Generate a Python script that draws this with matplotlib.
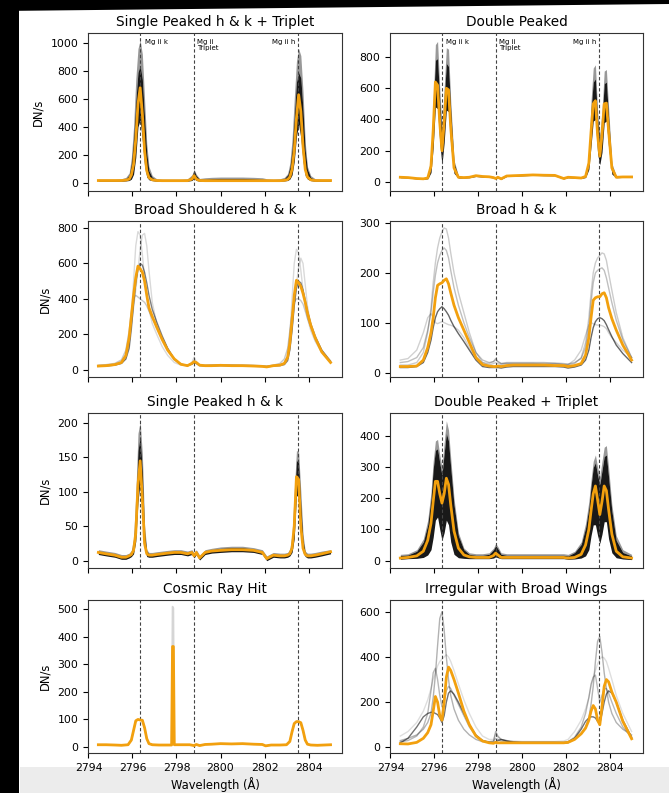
import matplotlib
matplotlib.use("Agg")
import matplotlib.pyplot as plt
from matplotlib.patches import Rectangle, Polygon

# ---------------- data ----------------
LINE_K = 2796.35
LINE_TRIPLET = 2798.8
LINE_H = 2803.53

WL = [2794.45, 2794.8, 2795.2, 2795.5, 2795.7, 2795.85, 2795.95, 2796.05, 2796.15, 2796.25,
      2796.35, 2796.45, 2796.55, 2796.65, 2796.75, 2796.9, 2797.1, 2797.35, 2797.6, 2797.9,
      2798.2, 2798.5, 2798.7, 2798.8, 2798.9, 2799.05, 2799.3, 2799.6, 2800.0, 2800.5,
      2801.0, 2801.5, 2801.9, 2802.1, 2802.4, 2802.7, 2802.9, 2803.05, 2803.15, 2803.25,
      2803.35, 2803.45, 2803.55, 2803.65, 2803.75, 2803.85, 2803.95, 2804.1, 2804.3, 2804.6,
      2805.0]

# Panel 1: Single Peaked h & k + Triplet
P1_MEAN = [15, 15, 15, 15, 18, 25, 55, 130, 310, 560, 680, 490, 230, 85, 35, 20, 15, 14, 14, 14,
           14, 14, 25, 50, 25, 15, 14, 14, 14, 14, 14, 14, 14, 14, 14, 14, 16, 22, 40, 95,
           230, 460, 630, 510, 260, 95, 40, 20, 15, 15, 15]
P1_LO = [10, 10, 10, 10, 12, 15, 25, 60, 180, 400, 450, 300, 120, 40, 20, 14, 10, 10, 10, 10,
         10, 10, 15, 30, 15, 10, 10, 10, 10, 10, 10, 10, 10, 10, 10, 10, 12, 15, 25, 55,
         150, 330, 420, 320, 150, 50, 25, 14, 10, 10, 10]
P1_HI = [20, 20, 20, 22, 30, 55, 140, 320, 580, 790, 840, 740, 470, 210, 85, 38, 22, 20, 20, 20,
         20, 22, 45, 90, 50, 25, 25, 28, 30, 30, 30, 28, 25, 22, 20, 22, 30, 55, 110, 240,
         470, 720, 790, 750, 520, 230, 95, 38, 22, 20, 20]
P1_TOP = [25, 25, 25, 28, 38, 70, 180, 400, 740, 960, 1020, 920, 600, 280, 115, 50, 28, 25, 25, 25,
          25, 28, 55, 95, 60, 30, 35, 38, 40, 40, 40, 38, 35, 28, 25, 28, 38, 65, 140, 310,
          600, 870, 960, 910, 650, 290, 115, 50, 28, 25, 25]

# Panel 2: Double Peaked
P2_MEAN = [30, 28, 22, 20, 25, 100, 330, 640, 620, 380, 200, 380, 600, 590, 350, 90, 30, 28, 30, 40,
           35, 33, 28, 22, 30, 20, 38, 40, 42, 45, 43, 42, 22, 30, 28, 25, 35, 120, 320, 500,
           520, 300, 165, 300, 500, 505, 330, 90, 30, 32, 32]
P2_LO = [27, 25, 19, 17, 20, 60, 220, 480, 470, 250, 110, 250, 460, 450, 230, 55, 25, 25, 27, 35,
         31, 30, 25, 19, 27, 17, 35, 37, 39, 42, 40, 39, 19, 27, 25, 22, 28, 80, 230, 390,
         400, 180, 110, 190, 380, 390, 220, 50, 27, 29, 29]
P2_HI = [33, 31, 25, 22, 35, 150, 460, 780, 790, 520, 300, 520, 760, 740, 470, 125, 35, 31, 33, 45,
         38, 36, 31, 25, 33, 23, 40, 43, 45, 48, 46, 45, 25, 33, 31, 28, 42, 170, 460, 640,
         660, 400, 260, 400, 630, 640, 420, 105, 34, 35, 36]
P2_TOP = [35, 33, 28, 25, 40, 170, 520, 880, 900, 600, 350, 600, 860, 850, 520, 140, 40, 33, 35, 48,
          40, 38, 33, 28, 35, 25, 42, 45, 48, 50, 48, 47, 28, 35, 33, 30, 45, 180, 520, 730,
          750, 450, 300, 450, 710, 720, 480, 120, 38, 38, 40]

# Panel 3: Broad Shouldered h & k
P3_MEAN = [20, 22, 28, 40, 80, 180, 300, 420, 520, 585, 570, 550, 500, 420, 350, 300, 240, 170, 110, 60,
           30, 22, 35, 45, 40, 25, 22, 22, 24, 22, 22, 20, 18, 15, 22, 25, 35, 70, 150, 280,
           420, 505, 490, 470, 430, 380, 320, 250, 180, 100, 40]
P3_G1 = [20, 22, 26, 35, 60, 140, 300, 500, 700, 780, 760, 650, 520, 420, 340, 260, 200, 130, 80, 40,
         25, 22, 40, 70, 45, 25, 22, 25, 27, 25, 24, 23, 20, 18, 22, 25, 35, 80, 200, 400,
         600, 680, 660, 560, 450, 360, 290, 220, 160, 95, 40]
P3_G2 = [22, 25, 30, 45, 80, 150, 250, 350, 450, 560, 680, 760, 770, 700, 560, 380, 260, 170, 110, 55,
         30, 25, 35, 50, 40, 28, 25, 26, 28, 27, 26, 25, 22, 20, 24, 28, 35, 60, 120, 230,
         360, 480, 580, 630, 600, 480, 360, 250, 170, 100, 45]
P3_G3 = [25, 28, 35, 55, 110, 220, 330, 400, 420, 410, 400, 390, 380, 360, 330, 290, 240, 180, 120, 60,
         30, 25, 30, 40, 35, 25, 24, 25, 26, 25, 24, 22, 20, 19, 25, 35, 60, 120, 220, 320,
         380, 400, 400, 390, 370, 330, 290, 240, 180, 110, 50]
P3_G4 = [18, 20, 25, 35, 60, 120, 230, 370, 490, 570, 600, 590, 550, 490, 420, 340, 270, 190, 120, 60,
         30, 22, 30, 40, 35, 22, 20, 20, 22, 21, 20, 19, 17, 15, 20, 22, 28, 50, 110, 220,
         360, 460, 500, 490, 450, 390, 330, 260, 190, 110, 45]

# Panel 4: Broad h & k
P4_MEAN = [12, 12, 13, 25, 50, 80, 110, 150, 175, 178, 180, 185, 188, 178, 160, 135, 110, 85, 60, 30,
           16, 13, 12, 12, 13, 12, 14, 15, 15, 15, 15, 14, 14, 12, 14, 18, 35, 70, 110, 145,
           150, 152, 152, 158, 160, 150, 130, 108, 85, 55, 25]
P4_G1 = [15, 15, 20, 40, 80, 130, 180, 220, 250, 270, 282, 290, 288, 270, 240, 200, 160, 120, 80, 40,
         20, 15, 18, 20, 18, 16, 18, 18, 18, 18, 17, 17, 16, 15, 18, 30, 60, 110, 160, 200,
         220, 230, 235, 240, 238, 225, 200, 165, 120, 70, 30]
P4_G2 = [20, 22, 30, 50, 85, 120, 160, 195, 220, 235, 245, 250, 245, 230, 205, 170, 135, 100, 70, 40,
         25, 20, 22, 28, 22, 18, 20, 20, 20, 20, 20, 19, 18, 17, 20, 28, 50, 90, 140, 180,
         200, 205, 208, 210, 205, 190, 170, 140, 105, 65, 30]
P4_G3 = [10, 10, 12, 20, 40, 65, 90, 110, 122, 128, 132, 128, 122, 115, 105, 92, 78, 62, 45, 25,
         12, 10, 10, 10, 10, 9, 11, 12, 12, 12, 12, 12, 11, 9, 11, 15, 25, 45, 70, 90,
         102, 108, 110, 108, 104, 96, 86, 72, 55, 38, 20]
P4_G4 = [25, 28, 45, 80, 110, 118, 110, 100, 98, 100, 102, 100, 98, 96, 95, 92, 85, 70, 50, 30,
         20, 18, 22, 25, 22, 18, 18, 18, 18, 18, 18, 18, 16, 16, 25, 45, 75, 95, 100, 98,
         96, 95, 95, 94, 92, 88, 80, 70, 60, 45, 30]

# Panel 5: Single Peaked h & k
P5_MEAN = [12, 10, 8, 5, 5, 7, 9, 15, 40, 110, 145, 90, 25, 10, 8, 8, 9, 10, 11, 12,
           12, 10, 12, 7, 12, 4, 12, 14, 15, 16, 16, 15, 12, 3, 8, 7, 7, 8, 10, 18,
           50, 122, 118, 50, 18, 9, 7, 7, 8, 10, 13]
P5_LO = [9, 7, 5, 2, 2, 4, 6, 10, 28, 85, 115, 65, 16, 6, 5, 5, 6, 7, 8, 9,
         9, 7, 9, 4, 9, 1, 9, 11, 12, 13, 13, 12, 9, 0, 5, 4, 4, 5, 7, 12,
         32, 95, 92, 32, 12, 6, 4, 4, 5, 7, 10]
P5_HI = [14, 12, 10, 7, 7, 9, 13, 26, 75, 160, 180, 130, 42, 14, 10, 10, 11, 12, 13, 14,
         14, 12, 14, 9, 14, 6, 14, 16, 18, 19, 19, 17, 14, 5, 10, 9, 9, 11, 15, 30,
         82, 146, 142, 82, 30, 12, 9, 9, 10, 12, 15]
P5_TOP = [16, 14, 12, 9, 9, 11, 15, 32, 95, 185, 202, 155, 52, 16, 12, 12, 13, 14, 15, 16,
          16, 14, 16, 11, 16, 8, 16, 18, 20, 21, 21, 19, 16, 7, 12, 11, 11, 12, 17, 38,
          100, 160, 158, 100, 38, 14, 11, 11, 12, 14, 16]

# Panel 6: Double Peaked + Triplet
P6_MEAN = [8, 10, 15, 30, 65, 120, 190, 255, 255, 215, 185, 215, 265, 245, 180, 95, 40, 18, 12, 10,
           10, 10, 16, 24, 18, 10, 10, 10, 10, 10, 10, 10, 10, 8, 10, 20, 50, 100, 160, 215,
           240, 195, 148, 190, 240, 225, 165, 85, 30, 12, 8]
P6_LO = [4, 6, 7, 10, 18, 35, 75, 130, 140, 100, 65, 90, 130, 115, 60, 20, 9, 7, 6, 6,
         6, 6, 8, 12, 9, 6, 6, 6, 6, 6, 6, 6, 6, 4, 5, 8, 15, 35, 80, 115,
         115, 80, 55, 85, 125, 125, 70, 25, 9, 5, 3]
P6_HI = [16, 18, 30, 60, 115, 200, 295, 355, 360, 315, 275, 345, 410, 385, 300, 180, 80, 35, 20, 17,
         17, 20, 35, 48, 38, 20, 17, 17, 17, 17, 17, 17, 17, 15, 26, 52, 105, 170, 240, 300,
         315, 275, 245, 290, 335, 340, 270, 160, 65, 26, 15]
P6_TOP = [20, 22, 35, 70, 130, 220, 320, 385, 390, 340, 300, 380, 450, 420, 330, 200, 90, 40, 25, 22,
          22, 25, 40, 55, 45, 25, 22, 22, 22, 22, 22, 22, 22, 20, 30, 60, 120, 190, 260, 320,
          340, 300, 270, 320, 365, 370, 300, 180, 80, 35, 20]

# Panel 7: Cosmic Ray Hit (own wavelength grid)
WL_CR = [2794.45, 2794.8, 2795.2, 2795.5, 2795.8, 2795.95, 2796.05, 2796.15, 2796.25, 2796.35,
         2796.45, 2796.55, 2796.65, 2796.75, 2796.9, 2797.2, 2797.5, 2797.78, 2797.82, 2797.86,
         2797.9, 2798.0, 2798.3, 2798.6, 2798.8, 2798.9, 2799.05, 2799.3, 2799.6, 2800.0,
         2800.5, 2801.0, 2801.5, 2801.9, 2802.05, 2802.3, 2802.7, 2803.0, 2803.15, 2803.25,
         2803.35, 2803.45, 2803.55, 2803.65, 2803.75, 2803.85, 2803.95, 2804.1, 2804.4, 2804.7,
         2805.0]
CR_MEAN = [8, 8, 7, 6, 8, 25, 60, 95, 100, 98, 97, 70, 30, 12, 8, 7, 7, 7, 365, 365,
           8, 8, 8, 8, 5, 9, 5, 9, 10, 12, 11, 12, 10, 9, 4, 7, 7, 8, 20, 55,
           85, 92, 92, 88, 60, 25, 10, 7, 6, 7, 8]
CR_GRAY = [8, 8, 7, 6, 8, 25, 60, 95, 100, 98, 97, 70, 30, 12, 8, 7, 7, 7, 510, 505,
           8, 8, 8, 8, 5, 9, 5, 9, 10, 12, 11, 12, 10, 9, 4, 7, 7, 8, 20, 55,
           85, 92, 92, 88, 60, 25, 10, 7, 6, 7, 8]

# Panel 8: Irregular with Broad Wings
P8_MEAN = [16, 15, 22, 40, 65, 100, 160, 225, 200, 140, 120, 200, 310, 355, 340, 300, 240, 160, 100, 50,
           28, 20, 18, 22, 20, 20, 20, 20, 20, 20, 20, 20, 20, 22, 35, 60, 85, 120, 160, 185,
           170, 120, 100, 180, 270, 300, 290, 245, 200, 115, 38]
P8_G1 = [30, 40, 55, 80, 110, 150, 220, 320, 450, 570, 600, 520, 400, 300, 230, 170, 120, 80, 55, 35,
         25, 22, 25, 70, 50, 35, 30, 25, 22, 22, 22, 22, 22, 25, 40, 60, 90, 130, 190, 270,
         380, 470, 490, 420, 330, 260, 200, 150, 110, 80, 55]
P8_G2 = [20, 40, 90, 135, 150, 155, 155, 150, 145, 130, 110, 140, 200, 240, 250, 235, 200, 150, 100, 55,
         30, 22, 20, 25, 30, 35, 28, 22, 20, 20, 20, 20, 18, 20, 40, 80, 115, 130, 135, 135,
         130, 115, 105, 150, 200, 235, 250, 240, 200, 120, 45]
P8_G3 = [25, 30, 50, 90, 150, 250, 330, 350, 300, 230, 180, 200, 250, 270, 260, 230, 190, 140, 90, 50,
         30, 25, 28, 40, 35, 28, 25, 24, 23, 23, 23, 23, 22, 25, 45, 90, 150, 220, 280, 310,
         320, 260, 200, 230, 260, 260, 240, 200, 150, 90, 45]
P8_G4 = [50, 70, 110, 160, 210, 260, 300, 330, 360, 380, 390, 400, 410, 400, 380, 340, 280, 210, 150, 90,
         50, 35, 35, 60, 45, 35, 30, 28, 26, 26, 26, 26, 28, 35, 70, 120, 170, 220, 270, 310,
         340, 370, 390, 400, 395, 380, 350, 300, 230, 150, 70]

TITLES = ["Single Peaked h & k + Triplet", "Double Peaked",
          "Broad Shouldered h & k", "Broad h & k",
          "Single Peaked h & k", "Double Peaked + Triplet",
          "Cosmic Ray Hit", "Irregular with Broad Wings"]
X_TICKS = [2794, 2796, 2798, 2800, 2802, 2804]

# ---------------- style ----------------
ORANGE = "#f2a00e"
W, H = 669, 793
fig = plt.figure(figsize=(W / 100, H / 100), dpi=100, facecolor="white")


def fx(px):
    return px / W


def fy(py):
    return 1 - py / H


# screenshot frame (black left/top edges, light grey strip at the bottom)
fig.add_artist(Rectangle((fx(20), 0), 1, fy(767), transform=fig.transFigure,
                         facecolor="#ececec", edgecolor="none", zorder=-10))
fig.add_artist(Rectangle((0, 0), fx(19), 1, transform=fig.transFigure,
                         facecolor="black", edgecolor="none", zorder=-9))
fig.add_artist(Polygon([(0, 1), (1, 1), (1, fy(4)), (0, fy(11))], closed=True,
                       transform=fig.transFigure, facecolor="black", edgecolor="none", zorder=-9))

col_left = [88, 390]
col_w = [254, 253]
row_top = [33, 221, 413, 600]
row_bot = [191, 377, 568, 753]

YLIMS = [(-60, 1072), (-58, 954), (-42, 840), (-9, 304),
         (-10.6, 214.5), (-24, 475), (-22, 534), (-25, 652)]
YTICKS = [range(0, 1001, 200), range(0, 801, 200), range(0, 801, 200), range(0, 301, 100),
          range(0, 201, 50), range(0, 401, 100), range(0, 501, 100), range(0, 601, 200)]

axes = []
for r in range(4):
    for c in range(2):
        ax = fig.add_axes([fx(col_left[c]), fy(row_bot[r]), col_w[c] / W,
                           (row_bot[r] - row_top[r]) / H])
        axes.append(ax)


def dense(ax, lo, hi, top):
    ax.fill_between(WL, hi, top, color="black", alpha=0.4, lw=0, zorder=1)
    ax.fill_between(WL, lo, hi, color="black", alpha=0.9, lw=0, zorder=1.5)


def members(ax, curves, alphas):
    for yv, a in zip(curves, alphas):
        ax.plot(WL, yv, color="black", alpha=a, lw=1.0, zorder=1)


dense(axes[0], P1_LO, P1_HI, P1_TOP)
axes[0].plot(WL, P1_MEAN, color=ORANGE, lw=2.0, zorder=4)

dense(axes[1], P2_LO, P2_HI, P2_TOP)
axes[1].plot(WL, P2_MEAN, color=ORANGE, lw=2.0, zorder=4)

members(axes[2], [P3_G1, P3_G2, P3_G3, P3_G4], [0.15, 0.15, 0.22, 0.5])
axes[2].plot(WL, P3_MEAN, color=ORANGE, lw=2.0, zorder=4)

members(axes[3], [P4_G1, P4_G2, P4_G3, P4_G4], [0.2, 0.25, 0.6, 0.18])
axes[3].plot(WL, P4_MEAN, color=ORANGE, lw=2.0, zorder=4)

dense(axes[4], P5_LO, P5_HI, P5_TOP)
axes[4].plot(WL, P5_MEAN, color=ORANGE, lw=2.0, zorder=4)

dense(axes[5], P6_LO, P6_HI, P6_TOP)
axes[5].plot(WL, P6_MEAN, color=ORANGE, lw=2.0, zorder=4)

axes[6].plot(WL_CR, CR_GRAY, color="#d5d5d5", lw=1.2, zorder=1)
axes[6].plot(WL_CR, CR_MEAN, color=ORANGE, lw=2.0, zorder=4)

members(axes[7], [P8_G1, P8_G2, P8_G3, P8_G4], [0.3, 0.55, 0.28, 0.13])
axes[7].plot(WL, P8_MEAN, color=ORANGE, lw=2.0, zorder=4)

for i, ax in enumerate(axes):
    for xl in (LINE_K, LINE_TRIPLET, LINE_H):
        ax.axvline(xl, color="#444444", lw=0.8, linestyle=(0, (3, 2)), zorder=3)
    ax.set_xlim(2793.98, 2805.52)
    ax.set_ylim(*YLIMS[i])
    ax.set_yticks(list(YTICKS[i]))
    ax.set_xticks(X_TICKS)
    ax.tick_params(labelsize=7.8, length=3.5, width=0.8)
    ax.set_title(TITLES[i], fontsize=9.8, pad=5)
    if i < 6:
        ax.tick_params(labelbottom=False)
    else:
        ax.set_xlabel("Wavelength (Å)", fontsize=8.3, labelpad=3)
    if i % 2 == 0:
        ax.set_ylabel("DN/s", fontsize=8.3)
    for s in ax.spines.values():
        s.set_color("#333333")

# line annotations on the top row
for ax in axes[:2]:
    tr = ax.get_xaxis_transform()
    ax.text(LINE_K + 0.2, 0.965, "Mg ii k", transform=tr, fontsize=5, va="top", ha="left")
    ax.text(LINE_TRIPLET + 0.15, 0.965, "Mg ii\nTriplet", transform=tr, fontsize=5,
            va="top", ha="left", linespacing=1.1)
    ax.text(LINE_H - 0.15, 0.965, "Mg ii h", transform=tr, fontsize=5, va="top", ha="right")

fig.savefig("out.png", dpi=100)
